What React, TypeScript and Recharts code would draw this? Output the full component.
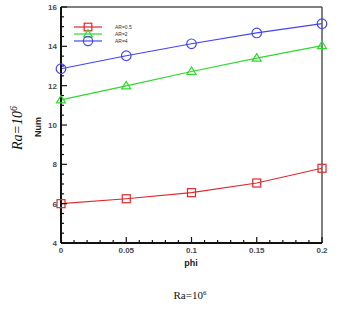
import React from "react";
import {
  LineChart,
  Line,
  XAxis,
  YAxis,
  ReferenceLine,
  Customized,
} from "recharts";

const phi = [0, 0.05, 0.1, 0.15, 0.2];
const ar05 = [6.0, 6.25, 6.56, 7.05, 7.8];
const ar2 = [11.28, 11.99, 12.72, 13.4, 14.04];
const ar4 = [12.86, 13.52, 14.13, 14.68, 15.15];

const xMajor = [0, 0.05, 0.1, 0.15, 0.2];
const xTicks = Array.from({ length: 21 }, (_, i) => +(i * 0.01).toFixed(2));
const yMajor = [4, 6, 8, 10, 12, 14, 16];
const yTicks = Array.from({ length: 25 }, (_, i) => 4 + i * 0.5);

const series = [
  { key: "ar05", name: "AR=0.5", color: "#e0282c", shape: "square" },
  { key: "ar2", name: "AR=2", color: "#2fd82f", shape: "triangle" },
  { key: "ar4", name: "AR=4", color: "#4545ee", shape: "circle" },
];

const data = phi.map((p, i) => ({
  phi: p,
  ar05: ar05[i],
  ar2: ar2[i],
  ar4: ar4[i],
}));

const W = 349;
const H = 309;

function Marker({ cx, cy, shape, color, s = 4 }: any) {
  if (cx == null || cy == null) return null;
  if (shape === "square")
    return (
      <rect x={cx - s} y={cy - s} width={s * 2} height={s * 2} fill="none" stroke={color} strokeWidth={1.2} />
    );
  if (shape === "triangle")
    return (
      <polygon
        points={`${cx},${cy - s - 0.5} ${cx - s - 0.5},${cy + s * 0.75} ${cx + s + 0.5},${cy + s * 0.75}`}
        fill="none"
        stroke={color}
        strokeWidth={1.2}
      />
    );
  return <circle cx={cx} cy={cy} r={s + 0.8} fill="none" stroke={color} strokeWidth={1.2} />;
}

const tickFont = { fontFamily: "Arial, 'Liberation Sans', sans-serif", fontSize: 8, fontWeight: 700, fill: "#4a4a55" };

function XTick({ x, y, payload }: any) {
  const v = payload.value;
  const major = xMajor.some((m) => Math.abs(m - v) < 1e-6);
  return (
    <g>
      <line x1={x} x2={x} y1={y} y2={y - (major ? 6 : 3)} stroke="#111" strokeWidth={1.2} />
      {major && (
        <text x={x} y={y + 10} textAnchor="middle" {...tickFont}>
          {v}
        </text>
      )}
    </g>
  );
}

function YTick({ x, y, payload }: any) {
  const v = payload.value;
  const major = yMajor.includes(v);
  return (
    <g>
      <line x1={x} x2={x + (major ? 6 : 3)} y1={y} y2={y} stroke="#111" strokeWidth={1.2} />
      {major && (
        <text x={x - 4} y={y + 3} textAnchor="end" {...tickFont}>
          {v}
        </text>
      )}
    </g>
  );
}

function Extras() {
  return (
    <g>
      {series.map((s, i) => {
        const y = 27 + i * 7;
        return (
          <g key={s.key}>
            <line x1={74} x2={102} y1={y} y2={y} stroke={s.color} strokeWidth={1.2} />
            <Marker cx={88} cy={y} shape={s.shape} color={s.color} s={3.8} />
            <text x={115} y={y + 2} fontSize={5} fontFamily="Arial, sans-serif" fill="#333">
              {s.name}
            </text>
          </g>
        );
      })}
      <text
        x={41}
        y={127}
        transform="rotate(-90 41 127)"
        textAnchor="middle"
        fontFamily="Arial, 'Liberation Sans', sans-serif"
        fontWeight={700}
        fontSize={9}
        fill="#222"
      >
        Num
      </text>
      <text
        x={22}
        y={128}
        transform="rotate(-90 22 128)"
        textAnchor="middle"
        fontFamily="'Liberation Serif', 'Times New Roman', serif"
        fontStyle="italic"
        fontSize={14}
        fill="#111"
      >
        Ra=10
        <tspan dy={-5} fontSize={10}>6</tspan>
      </text>
      <text
        x={191}
        y={266}
        textAnchor="middle"
        fontFamily="Arial, 'Liberation Sans', sans-serif"
        fontWeight={700}
        fontSize={9}
        fill="#222"
      >
        phi
      </text>
      <text
        x={190}
        y={299}
        textAnchor="middle"
        fontFamily="'Liberation Serif', 'Times New Roman', serif"
        fontSize={11}
        fill="#111"
      >
        Ra=10
        <tspan dy={-4} fontSize={7}>6</tspan>
      </text>
    </g>
  );
}

export default function App() {
  return (
    <div style={{ position: "absolute", left: 0, top: 0, width: W, height: H, background: "#fff" }}>
      <LineChart
        width={W}
        height={H}
        data={data}
        margin={{ top: 7, right: 27, left: 0, bottom: 0 }}
      >
        <XAxis
          dataKey="phi"
          type="number"
          domain={[0, 0.2]}
          ticks={xTicks}
          interval={0}
          tickSize={0}
          tickMargin={0}
          tickLine={false}
          axisLine={{ stroke: "#111", strokeWidth: 2 }}
          tick={<XTick />}
          height={66}
        />
        <YAxis
          type="number"
          domain={[4, 16]}
          ticks={yTicks}
          interval={0}
          tickSize={0}
          tickMargin={0}
          tickLine={false}
          axisLine={{ stroke: "#111", strokeWidth: 2 }}
          tick={<YTick />}
          width={61}
        />
        <ReferenceLine y={16} stroke="#555" strokeWidth={1.5} />
        <ReferenceLine x={0.2} stroke="#555" strokeWidth={1.5} />
        {series.map((s) => (
          <Line
            key={s.key}
            dataKey={s.key}
            name={s.name}
            type="linear"
            stroke={s.color}
            strokeWidth={1.2}
            isAnimationActive={false}
            dot={(p: any) => <Marker key={`${s.key}-${p.index}`} cx={p.cx} cy={p.cy} shape={s.shape} color={s.color} />}
            activeDot={false}
          />
        ))}
        <Customized component={Extras} />
      </LineChart>
    </div>
  );
}
